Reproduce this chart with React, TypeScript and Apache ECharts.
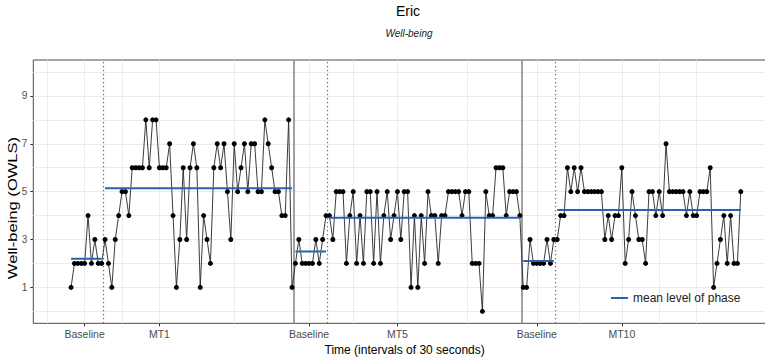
import React, { useEffect, useRef } from 'react';
import * as echarts from 'echarts';

// ---- data ----
const baseline1 = [1, 2, 2, 2, 2, 4, 2, 3, 2, 2];
const mt1 = [3, 2, 1, 3, 4, 5, 5, 4, 6, 6, 6, 6, 8, 6, 8, 8, 6, 6, 6, 7, 4, 1, 3, 6, 3, 6, 7, 6, 1, 4, 3, 2, 6, 7, 6, 7, 5, 3, 7, 5, 6, 7, 5, 7, 7, 5, 5, 8, 7, 6, 5, 5, 4, 4, 8, 1];
const baseline2 = [2, 3, 2, 2, 2, 2, 3, 2, 3, 4];
const mt5 = [4, 3, 5, 5, 5, 2, 4, 5, 2, 4, 2, 5, 5, 2, 5, 2, 4, 5, 3, 4, 5, 3, 5, 5, 1, 4, 1, 4, 2, 5, 4, 4, 2, 4, 4, 5, 5, 5, 5, 4, 5, 5, 2, 2, 2, 0, 5, 4, 4, 6, 6, 6, 4, 5, 5, 5, 4];
const baseline3 = [1, 1, 3, 2, 2, 2, 2, 3, 2, 3];
const mt10 = [3, 4, 4, 6, 5, 6, 5, 6, 5, 5, 5, 5, 5, 5, 3, 4, 3, 4, 4, 6, 2, 3, 5, 4, 3, 3, 2, 5, 5, 4, 5, 4, 7, 5, 5, 5, 5, 5, 4, 5, 4, 4, 5, 5, 5, 6, 1, 2, 3, 4, 2, 4, 2, 2, 5];

const phaseValues = [baseline1, mt1, baseline2, mt5, baseline3, mt10];
const tickLabels = ['Baseline', 'MT1', 'Baseline', 'MT5', 'Baseline', 'MT10'];
const tickPositions = [4, 26, 70, 96, 137, 162];
const yTickValues = [1, 3, 5, 7, 9];

const FONT = 'Liberation Sans, Arial, Helvetica, sans-serif';
const BLUE = '#2a62ad';

export default function App() {
  const ref = useRef<HTMLDivElement>(null);

  useEffect(() => {
    const chart = echarts.init(ref.current!, null, { renderer: 'svg' });

    const all: number[] = [];
    phaseValues.forEach((p) => all.push(...p));
    const points = all.map((v, i) => [i, v]);

    const starts: number[] = [];
    let acc = 0;
    phaseValues.forEach((p) => {
      starts.push(acc);
      acc += p.length;
    });

    const meanSeries = phaseValues.map((p, k) => {
      const m = p.reduce((a, b) => a + b, 0) / p.length;
      const s = starts[k];
      const e = s + p.length - 1;
      return {
        type: 'line',
        name: 'mean level of phase',
        data: [
          [s, m],
          [e, m],
        ],
        showSymbol: false,
        symbol: 'none',
        lineStyle: { color: BLUE, width: 2 },
        itemStyle: { color: BLUE },
        z: 6,
        silent: true,
      };
    });

    const dotted: number[] = [];
    const solid: number[] = [];
    for (let k = 1; k < phaseValues.length; k++) {
      const pos = starts[k] - 0.5;
      if (k % 2 === 1) dotted.push(pos);
      else solid.push(pos);
    }

    const bd = tickPositions[1] - tickPositions[0];
    const ext = [tickPositions[0] - bd, ...tickPositions, tickPositions[tickPositions.length - 1] + bd];
    const vGrid: number[] = [];
    for (let i = 0; i < ext.length - 1; i++) {
      vGrid.push(ext[i], (ext[i] + ext[i + 1]) / 2);
    }
    vGrid.push(ext[ext.length - 1]);
    const hGrid = [0, 1, 2, 3, 4, 5, 6, 7, 8, 9, 10];

    const gridLineStyle = { color: '#ebebeb', width: 1, type: 'solid' as const };

    const option: any = {
      animation: false,
      backgroundColor: '#ffffff',
      textStyle: { fontFamily: FONT },
      title: [
        {
          text: 'Eric',
          left: 403,
          top: -1,
          textAlign: 'center',
          textStyle: { fontSize: 14, fontWeight: 'normal', color: '#000', fontFamily: FONT },
        },
        {
          text: 'Well-being',
          left: 404,
          top: 23,
          textAlign: 'center',
          textStyle: { fontSize: 10, fontStyle: 'italic', fontWeight: 'normal', color: '#222', fontFamily: FONT },
        },
      ],
      legend: {
        data: [{ name: 'mean level of phase', icon: 'rect' }],
        left: 611,
        top: 292,
        padding: 0,
        itemWidth: 17,
        itemHeight: 2,
        selectedMode: false,
        itemStyle: { color: BLUE, borderWidth: 0 },
        textStyle: { fontSize: 12, color: '#222', fontFamily: FONT },
      },
      graphic: [
        {
          type: 'text',
          x: 13,
          y: 208,
          rotation: Math.PI / 2,
          scaleX: 1.38,
          style: {
            text: 'Well-being (OWLS)',
            fontSize: 12,
            fontFamily: FONT,
            fill: '#000',
            align: 'center',
            verticalAlign: 'middle',
          },
        },
      ],
      grid: {
        left: 33.3,
        right: -11,
        top: 60,
        bottom: 33.7,
        outerBoundsMode: 'none',
        containLabel: false,
        show: true,
        borderColor: '#4d4d4d',
        borderWidth: 1,
        backgroundColor: 'transparent',
      },
      xAxis: {
        type: 'value',
        min: -11.1,
        max: 207.35,
        position: 'bottom',
        axisLine: { show: false, onZero: false },
        splitLine: { show: false },
        axisTick: {
          show: true,
          customValues: tickPositions,
          length: 3,
          lineStyle: { color: '#333' },
        },
        axisLabel: {
          customValues: tickPositions,
          formatter: (v: number) => {
            const i = tickPositions.indexOf(v);
            return i >= 0 ? tickLabels[i] : '';
          },
          fontSize: 10.5,
          color: '#4d4d4d',
          margin: 5,
          fontFamily: FONT,
        },
        name: 'Time (intervals of 30 seconds)',
        nameLocation: 'middle',
        nameGap: 18,
        nameTextStyle: { fontSize: 12, color: '#000', fontFamily: FONT },
      },
      yAxis: {
        type: 'value',
        min: -0.5,
        max: 10.5,
        position: 'left',
        axisLine: { show: false, onZero: false },
        splitLine: { show: false },
        axisTick: {
          show: true,
          customValues: yTickValues,
          length: 3,
          lineStyle: { color: '#333' },
        },
        axisLabel: {
          customValues: yTickValues,
          fontSize: 10,
          color: '#4d4d4d',
          margin: 6,
          fontFamily: FONT,
        },
      },
      series: [
        {
          type: 'line',
          name: 'grid',
          data: [],
          silent: true,
          z: 0,
          markLine: {
            z: 0,
            silent: true,
            symbol: ['none', 'none'],
            label: { show: false },
            animation: false,
            lineStyle: gridLineStyle,
            emphasis: { disabled: true },
            data: [
              ...vGrid.map((v) => ({ xAxis: v })),
              ...hGrid.map((v) => ({ yAxis: v })),
            ],
          },
        },
        {
          type: 'line',
          name: 'separators',
          data: [],
          silent: true,
          z: 1,
          markLine: {
            z: 1,
            silent: true,
            symbol: ['none', 'none'],
            label: { show: false },
            animation: false,
            emphasis: { disabled: true },
            data: [
              ...dotted.map((v) => ({ xAxis: v, lineStyle: { color: '#666', width: 1.2, type: [1.2, 2.8] } })),
              ...solid.map((v) => ({ xAxis: v, lineStyle: { color: '#8a8a8a', width: 1.6, type: 'solid' } })),
            ],
          },
        },
        {
          type: 'line',
          name: 'Well-being line',
          data: points,
          showSymbol: false,
          symbol: 'none',
          lineStyle: { color: '#262626', width: 0.9 },
          z: 3,
          silent: true,
        },
        {
          type: 'scatter',
          name: 'Well-being',
          data: points,
          symbol: 'circle',
          symbolSize: 5,
          itemStyle: { color: '#000', borderWidth: 0, opacity: 1 },
          z: 4,
          silent: true,
        },
        ...meanSeries,
      ],
    };

    chart.setOption(option);
    return () => chart.dispose();
  }, []);

  return <div ref={ref} style={{ position: 'fixed', left: 0, top: 0, width: 765, height: 357 }} />;
}
